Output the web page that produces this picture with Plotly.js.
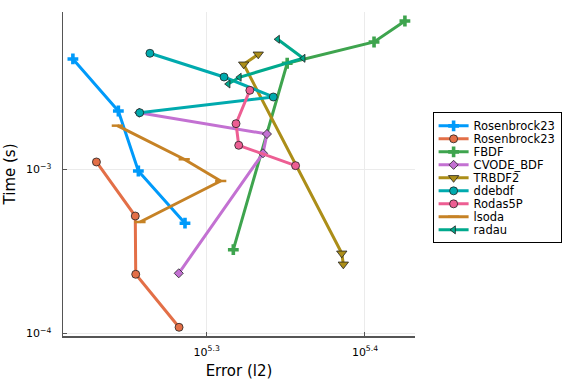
<!DOCTYPE html>
<html><head><meta charset="utf-8">
<script src="https://cdn.plot.ly/plotly-3.0.1.min.js"></script>
<style>html,body{margin:0;padding:0;background:#fff}#c{width:576px;height:384px}</style>
</head><body><div id="c"></div>
<script>
const seriesNames = ["Rosenbrock23","Rosenbrock23","FBDF","CVODE_BDF","TRBDF2","ddebdf","Rodas5P","lsoda","radau"];
const rb23aErr = [164230, 175460, 180640, 193320];
const rb23aTime = [0.004706, 0.002267, 0.000976, 0.000469];
const rb23bErr = [169950, 179830, 179950, 191660];
const rb23bTime = [0.001108, 0.000519, 0.000229, 0.0001088];
const fbdfErr = [207400, 224310, 254520, 266210];
const fbdfTime = [0.0003234, 0.00443, 0.005973, 0.00802];
const cvodeErr = [180880, 217800, 216550, 191570];
const cvodeTime = [0.002213, 0.001641, 0.0012522, 0.0002322];
const trbdf2Err = [215060, 210550, 242850, 243400];
const trbdf2Time = [0.005025, 0.004368, 0.0003074, 0.0002634];
const ddebdfErr = [183700, 204620, 219830, 180990];
const ddebdfTime = [0.005096, 0.003654, 0.00276, 0.002213];
const rodasErr = [212450, 208220, 209040, 227060];
const rodasTime = [0.003031, 0.001897, 0.0014006, 0.001052];
const lsodaErr = [175200, 193100, 203630, 181070];
const lsodaTime = [0.001845, 0.0011508, 0.0008487, 0.000477];
const radauErr = [221210, 229610, 209240, 205850];
const radauTime = [0.006205, 0.004751, 0.003639, 0.003312];

const xTickVals = [199526.23, 251188.64];
const xTickText = ["10<sup>5.3</sup>", "10<sup>5.4</sup>"];
const yTickVals = [0.0001, 0.001];
const yTickText = ["10<sup>−4</sup>", "10<sup>−3</sup>"];

const colors = ["#009AFA","#E36F47","#3EA44E","#C371D2","#AC8E18","#00AAAE","#ED5E93","#C68225","#00A98D"];
const symbols = ["cross","circle","cross","diamond","triangle-down","circle","circle","line-ew","triangle-left"];
const sizes = [9,8,9,7,9,8,8,8,7];
const xs = [rb23aErr, rb23bErr, fbdfErr, cvodeErr, trbdf2Err, ddebdfErr, rodasErr, lsodaErr, radauErr];
const ys = [rb23aTime, rb23bTime, fbdfTime, cvodeTime, trbdf2Time, ddebdfTime, rodasTime, lsodaTime, radauTime];

const traces = seriesNames.map((n,i)=>{
  const outline = (symbols[i]==="cross") ? {width:0} : (symbols[i]==="line-ew" ? {width:2.5,color:colors[i]} : {width:0.8,color:"#222"});
  return {
    x: xs[i], y: ys[i], name: n, type: "scatter", mode: "lines+markers",
    line: {color: colors[i], width: 3},
    marker: {symbol: symbols[i], size: sizes[i], color: colors[i], line: outline}
  };
});

const layout = {
  width: 576, height: 384,
  margin: {l: 63, r: 161, t: 12, b: 48},
  paper_bgcolor: "#fff", plot_bgcolor: "#fff",
  font: {family: "DejaVu Sans, sans-serif", color: "#000"},
  showlegend: true,
  legend: {x: 1.05, y: 0.69, xanchor: "left", yanchor: "top", bordercolor: "#000", borderwidth: 1,
    bgcolor: "#fff", font: {size: 11.5}, tracegroupgap: 0, itemwidth: 30},
  xaxis: {type: "log", range: [5.2092, 5.4316], tickvals: xTickVals, ticktext: xTickText,
    showgrid: true, gridcolor: "#ebebeb", gridwidth: 1, zeroline: false,
    showline: true, linecolor: "#555", linewidth: 1.5, mirror: false,
    ticks: "inside", ticklen: 4, tickcolor: "#555", tickfont: {size: 11}, ticklabelstandoff: 5,
    title: {text: "Error (l2)", font: {size: 15}, standoff: 8}},
  yaxis: {type: "log", range: [-4.0165, -2.041], tickvals: yTickVals, ticktext: yTickText,
    showgrid: true, gridcolor: "#ebebeb", gridwidth: 1, zeroline: false,
    showline: true, linecolor: "#555", linewidth: 1.5, mirror: false,
    ticks: "inside", ticklen: 4, tickcolor: "#555", tickfont: {size: 11}, ticklabelstandoff: 8,
    title: {text: "Time (s)", font: {size: 15}, standoff: 6}}
};
const gd = document.getElementById("c");
Plotly.newPlot(gd, traces, layout, {displayModeBar: false, staticPlot: true}).then(()=>{
  // tighten legend row spacing to match the reference
  const items = gd.querySelectorAll(".legend .traces");
  if (!items.length) return;
  const m = /translate\(\s*([-\d.]+)[ ,]+([-\d.]+)\s*\)/.exec(items[0].getAttribute("transform") || "");
  const x0 = m ? parseFloat(m[1]) : 0;
  const firstY = 13.4;
  const step = 13;
  items.forEach((it, i)=>{ it.setAttribute("transform", `translate(${x0},${firstY + i*step})`); });
  const h = firstY + (items.length - 1) * step + 11.7;
  gd.querySelectorAll(".legend rect.bg").forEach(r=>r.setAttribute("height", h));
});
</script></body></html>
